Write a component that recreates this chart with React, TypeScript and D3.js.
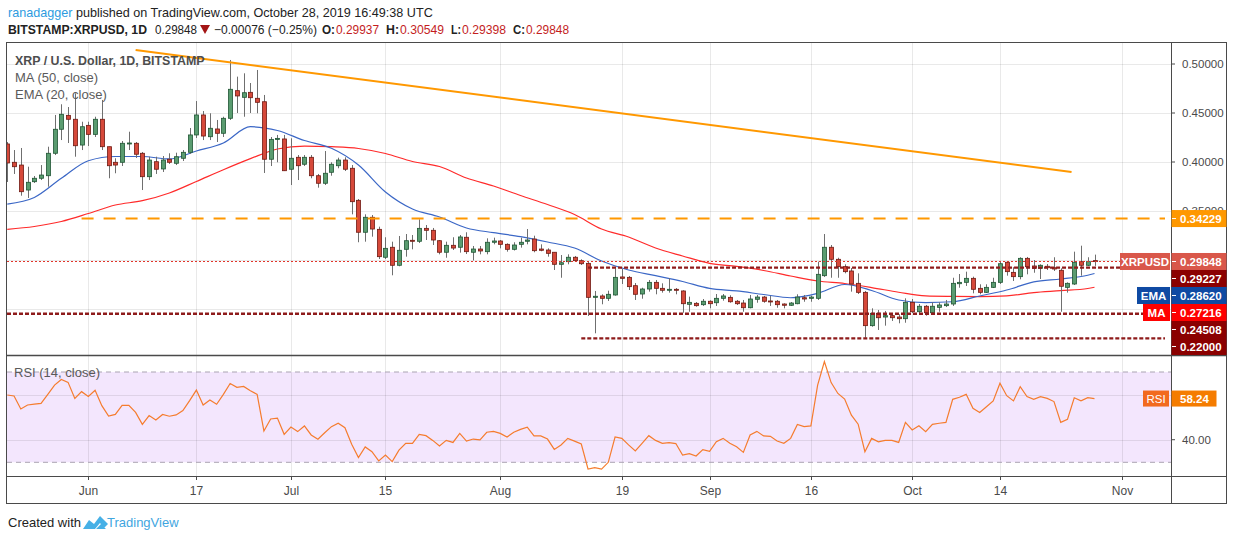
'use client'

import { useEffect, useRef } from 'react'
import * as d3 from 'd3'

// BITSTAMP:XRPUSD daily bars, 2019-05-20 .. 2019-10-28
const startDate = '2019-05-20'

const opens = [
  0.4184, 0.3997, 0.3969, 0.3714, 0.3799, 0.3834, 0.3860, 0.4089, 0.4334, 0.4476,
  0.4436, 0.4173, 0.4374, 0.4282, 0.4436, 0.4156, 0.3997, 0.3997, 0.4189, 0.4191,
  0.4089, 0.3850, 0.4003, 0.3929, 0.4028, 0.3987, 0.4038, 0.4099, 0.4276, 0.4480,
  0.4258, 0.4337, 0.4293, 0.4446, 0.4728, 0.4660, 0.4711, 0.4650, 0.4615, 0.4028,
  0.4231, 0.4235, 0.3926, 0.4048, 0.3977, 0.4048, 0.3860, 0.3783, 0.3895, 0.3962,
  0.4020, 0.3936, 0.3609, 0.3283, 0.3436, 0.3313, 0.3028, 0.3130, 0.2946, 0.3109,
  0.3201, 0.3191, 0.3323, 0.3303, 0.3197, 0.3079, 0.3150, 0.3130, 0.3232, 0.3079,
  0.3112, 0.3085, 0.3181, 0.3194, 0.3160, 0.3109, 0.3160, 0.3191, 0.3214, 0.3112,
  0.3102, 0.3079, 0.2956, 0.2983, 0.3028, 0.2993, 0.2966, 0.2619, 0.2633, 0.2609,
  0.2643, 0.2827, 0.2823, 0.2738, 0.2653, 0.2704, 0.2772, 0.2711, 0.2691, 0.2701,
  0.2684, 0.2548, 0.2558, 0.2544, 0.2579, 0.2564, 0.2609, 0.2619, 0.2579, 0.2561,
  0.2513, 0.2599, 0.2622, 0.2582, 0.2579, 0.2551, 0.2538, 0.2554, 0.2615, 0.2609,
  0.2609, 0.2840, 0.3130, 0.3007, 0.2932, 0.2888, 0.2762, 0.2670, 0.2330, 0.2456,
  0.2418, 0.2432, 0.2418, 0.2401, 0.2568, 0.2472, 0.2528, 0.2462, 0.2517, 0.2534,
  0.2551, 0.2758, 0.2772, 0.2813, 0.2711, 0.2670, 0.2721, 0.2772, 0.2977, 0.2874,
  0.2830, 0.3017, 0.2939, 0.2915, 0.2936, 0.2921, 0.2895, 0.2721, 0.2755, 0.2983,
  0.2946, 0.29937,
]

const highs = [
  0.4204, 0.4122, 0.4143, 0.3952, 0.3857, 0.3969, 0.4156, 0.4480, 0.4589, 0.4561,
  0.4701, 0.4411, 0.4411, 0.4462, 0.4633, 0.4156, 0.4038, 0.4214, 0.4309, 0.4204,
  0.4102, 0.4054, 0.4054, 0.4061, 0.4089, 0.4095, 0.4122, 0.4347, 0.4622, 0.4520,
  0.4497, 0.4429, 0.4462, 0.5041, 0.4871, 0.4905, 0.4806, 0.4939, 0.4684, 0.4255,
  0.4276, 0.4276, 0.4242, 0.4071, 0.4071, 0.4071, 0.3878, 0.4112, 0.3997, 0.4044,
  0.4048, 0.3969, 0.3622, 0.3466, 0.3459, 0.3340, 0.3232, 0.3187, 0.3245, 0.3265,
  0.3255, 0.3415, 0.3357, 0.3327, 0.3204, 0.3187, 0.3232, 0.3255, 0.3283, 0.3143,
  0.3143, 0.3221, 0.3228, 0.3204, 0.3170, 0.3181, 0.3228, 0.3316, 0.3248, 0.3160,
  0.3119, 0.3079, 0.3051, 0.3058, 0.3041, 0.3007, 0.2983, 0.2684, 0.2650, 0.2687,
  0.2915, 0.2908, 0.2837, 0.2765, 0.2717, 0.2796, 0.2796, 0.2762, 0.2813, 0.2714,
  0.2691, 0.2626, 0.2571, 0.2602, 0.2589, 0.2653, 0.2653, 0.2640, 0.2592, 0.2592,
  0.2643, 0.2643, 0.2633, 0.2633, 0.2592, 0.2558, 0.2571, 0.2650, 0.2643, 0.2636,
  0.2983, 0.3265, 0.3153, 0.3023, 0.2956, 0.2918, 0.2864, 0.2684, 0.2507, 0.2490,
  0.2480, 0.2459, 0.2446, 0.2609, 0.2602, 0.2551, 0.2541, 0.2568, 0.2568, 0.2592,
  0.2819, 0.2857, 0.2881, 0.2830, 0.2752, 0.2752, 0.2819, 0.2990, 0.2990, 0.2926,
  0.3028, 0.3031, 0.3000, 0.2956, 0.2959, 0.3028, 0.2915, 0.2772, 0.3085, 0.3146,
  0.3028, 0.30549,
]

const lows = [
  0.3796, 0.3878, 0.3656, 0.3633, 0.3786, 0.3816, 0.3748, 0.4071, 0.4224, 0.4194,
  0.4054, 0.4122, 0.4163, 0.4255, 0.4122, 0.3834, 0.3885, 0.3959, 0.4122, 0.4041,
  0.3714, 0.3816, 0.3878, 0.3898, 0.3980, 0.3969, 0.4010, 0.4082, 0.4245, 0.4224,
  0.4224, 0.4204, 0.4255, 0.4429, 0.4500, 0.4462, 0.4500, 0.4497, 0.3888, 0.3959,
  0.3997, 0.3908, 0.3765, 0.3816, 0.3959, 0.3834, 0.3738, 0.3765, 0.3860, 0.3936,
  0.3908, 0.3466, 0.3181, 0.3187, 0.3238, 0.3010, 0.3010, 0.2844, 0.2936, 0.3034,
  0.3109, 0.3173, 0.3204, 0.3153, 0.3058, 0.3023, 0.3102, 0.3075, 0.3061, 0.2995,
  0.3058, 0.3058, 0.3160, 0.3119, 0.3085, 0.3097, 0.3126, 0.3160, 0.3079, 0.3089,
  0.3034, 0.2898, 0.2819, 0.2956, 0.2980, 0.2949, 0.2429, 0.2252, 0.2548, 0.2582,
  0.2636, 0.2755, 0.2694, 0.2592, 0.2605, 0.2677, 0.2650, 0.2667, 0.2667, 0.2650,
  0.2462, 0.2472, 0.2523, 0.2531, 0.2507, 0.2531, 0.2585, 0.2564, 0.2541, 0.2472,
  0.2507, 0.2564, 0.2564, 0.2531, 0.2513, 0.2507, 0.2531, 0.2548, 0.2574, 0.2574,
  0.2592, 0.2827, 0.2819, 0.2819, 0.2864, 0.2677, 0.2653, 0.2207, 0.2319, 0.2286,
  0.2330, 0.2378, 0.2354, 0.2360, 0.2459, 0.2459, 0.2432, 0.2449, 0.2472, 0.2520,
  0.2531, 0.2717, 0.2735, 0.2660, 0.2650, 0.2663, 0.2714, 0.2755, 0.2840, 0.2786,
  0.2803, 0.2854, 0.2870, 0.2806, 0.2898, 0.2888, 0.2472, 0.2667, 0.2745, 0.2840,
  0.2939, 0.29398,
]

const closes = [
  0.3990, 0.3952, 0.3697, 0.3793, 0.3834, 0.3867, 0.4089, 0.4334, 0.4487, 0.4436,
  0.4166, 0.4360, 0.4282, 0.4436, 0.4156, 0.3962, 0.3969, 0.4191, 0.4194, 0.4079,
  0.3850, 0.4020, 0.3926, 0.4020, 0.3997, 0.4054, 0.4099, 0.4276, 0.4480, 0.4265,
  0.4344, 0.4293, 0.4446, 0.4742, 0.4674, 0.4707, 0.4656, 0.4609, 0.4028, 0.4231,
  0.4241, 0.3911, 0.4038, 0.3962, 0.4048, 0.3860, 0.3783, 0.3885, 0.3977, 0.4020,
  0.3926, 0.3595, 0.3283, 0.3436, 0.3316, 0.3034, 0.3119, 0.2946, 0.3099, 0.3197,
  0.3191, 0.3323, 0.3303, 0.3204, 0.3079, 0.3150, 0.3122, 0.3235, 0.3085, 0.3112,
  0.3092, 0.3181, 0.3194, 0.3160, 0.3109, 0.3153, 0.3181, 0.3204, 0.3095, 0.3099,
  0.3068, 0.2956, 0.2972, 0.3028, 0.2993, 0.2962, 0.2619, 0.2630, 0.2609, 0.2650,
  0.2823, 0.2813, 0.2728, 0.2650, 0.2704, 0.2772, 0.2711, 0.2691, 0.2701, 0.2691,
  0.2554, 0.2568, 0.2534, 0.2579, 0.2554, 0.2609, 0.2633, 0.2574, 0.2554, 0.2513,
  0.2602, 0.2622, 0.2579, 0.2574, 0.2544, 0.2538, 0.2561, 0.2622, 0.2602, 0.2622,
  0.2854, 0.3130, 0.3007, 0.2932, 0.2881, 0.2755, 0.2670, 0.2330, 0.2456, 0.2411,
  0.2432, 0.2411, 0.2401, 0.2568, 0.2472, 0.2528, 0.2462, 0.2528, 0.2541, 0.2551,
  0.2762, 0.2772, 0.2813, 0.2701, 0.2670, 0.2721, 0.2772, 0.2962, 0.2881, 0.2830,
  0.3017, 0.2932, 0.2915, 0.2946, 0.2921, 0.2908, 0.2732, 0.2762, 0.2977, 0.2946,
  0.2983, 0.29848,
]

// RSI (14, close), one value per bar
const rsi = [
  59.8, 59.4, 53.6, 55.4, 55.8, 56.1, 60.1, 64.2, 66.7, 65.4,
  58.3, 61.3, 59.2, 61.9, 55.1, 50.5, 51.2, 55.2, 55.2, 52.1,
  46.8, 50.7, 48.7, 51.2, 50.4, 51.0, 52.9, 57.3, 62.0, 55.4,
  57.6, 55.7, 60.1, 64.9, 63.2, 63.6, 61.7, 60.1, 43.9, 49.2,
  49.6, 42.4, 45.6, 43.6, 46.1, 42.1, 40.2, 43.1, 45.8, 47.3,
  45.3, 38.0, 32.1, 36.8, 34.7, 30.6, 33.2, 30.3, 35.4, 38.4,
  38.4, 42.4, 41.8, 39.7, 37.2, 39.7, 38.8, 42.8, 39.4, 40.3,
  39.9, 43.3, 43.7, 42.8, 41.2, 43.3, 44.6, 45.6, 41.7, 41.7,
  40.3, 35.7, 37.7, 40.6, 39.4, 38.1, 27.0, 27.6, 27.0, 30.0,
  41.2, 40.6, 37.7, 35.0, 38.4, 41.8, 39.7, 38.4, 38.7, 38.3,
  33.2, 33.8, 32.8, 35.6, 34.9, 39.1, 40.6, 38.4, 36.9, 34.4,
  42.1, 43.7, 41.7, 41.5, 39.4, 38.4, 40.6, 46.8, 45.8, 46.1,
  64.2, 74.6, 65.3, 60.5, 58.0, 50.9, 46.9, 34.7, 40.6, 39.1,
  39.7, 39.7, 38.8, 47.7, 44.3, 46.2, 43.6, 46.8, 47.3, 47.7,
  57.9, 58.8, 60.1, 53.9, 52.1, 54.6, 57.2, 65.0, 59.5, 57.2,
  63.5, 59.1, 57.9, 59.1, 58.3, 56.9, 47.7, 49.0, 58.6, 57.2,
  58.6, 58.24,
]

const avgIdx = [
  0, 4, 8, 12, 16, 20, 24, 28, 32, 36, 40, 44, 48, 52, 56, 60, 64, 68, 72, 76, 80,
  84, 88, 92, 96, 100, 104, 108, 112, 116, 120, 124, 128, 132, 136, 140, 144, 148,
  152, 156, 160, 161,
]
const ma50 = [
  0.3313, 0.3342, 0.3393, 0.3474, 0.3561, 0.3605, 0.3684, 0.3801, 0.3921, 0.4034,
  0.4133, 0.4163, 0.4156, 0.4138, 0.4087, 0.4005, 0.3954, 0.3837, 0.3755, 0.3658,
  0.3566, 0.3464, 0.3316, 0.3235, 0.3122, 0.3041, 0.2966, 0.2934, 0.2893, 0.2837,
  0.2786, 0.2760, 0.2719, 0.2671, 0.2633, 0.2628, 0.2626, 0.2633, 0.2668, 0.2687,
  0.2709, 0.27216,
]
const ema20 = [
  0.3571, 0.3638, 0.3833, 0.4013, 0.4056, 0.4056, 0.4031, 0.4112, 0.4194, 0.4360,
  0.4321, 0.4219, 0.4140, 0.3969, 0.3694, 0.3520, 0.3439, 0.3327, 0.3279, 0.3238,
  0.3184, 0.3122, 0.2990, 0.2898, 0.2840, 0.2781, 0.2711, 0.2684, 0.2648, 0.2615,
  0.2660, 0.2750, 0.2689, 0.2592, 0.2566, 0.2574, 0.2633, 0.2694, 0.2776, 0.2806,
  0.2844, 0.28620,
]

// horizontal levels drawn on the chart (price, first bar)
const levelPrices = [0.34229, 0.29227, 0.24508, 0.22]
const levelFrom = [11, 86, 0, 85]

// falling trend line (bar index, price)
const trendIdx = [19, 157.6]
const trendPrices = [0.5143, 0.3898]

const tickDates = [
  '2019-06-01', '2019-06-17', '2019-07-01', '2019-07-15', '2019-08-01', '2019-08-19',
  '2019-09-01', '2019-09-16', '2019-10-01', '2019-10-14', '2019-11-01',
]
const tickLabels = ['Jun', '17', 'Jul', '15', 'Aug', '19', 'Sep', '16', 'Oct', '14', 'Nov']
const priceTicks = [0.5, 0.45, 0.4, 0.35, 0.3, 0.25]
const rsiGrid = [40, 60]
const rsiBand = [30, 70]

export default function App() {
  const svgRef = useRef<SVGSVGElement>(null)

  useEffect(() => {
    if (!svgRef.current) return

    const svg = d3.select(svgRef.current)
    svg.selectAll('*').remove()

    const width = 1234
    const height = 540
    const font = "'Liberation Sans', Arial, sans-serif"
    const left = 7
    const right = 1171
    const axisRight = 1226
    const mainTop = 43
    const mainBottom = 355
    const rsiBottom = 476
    const axisBottom = 503
    const frame = '#4a4a4a'
    const textGrey = '#4a4a4a'

    svg.attr('width', width).attr('height', height).style('font-family', font)
    svg.append('rect').attr('width', width).attr('height', height).attr('fill', '#fff')

    const dates = opens.map((_, i) => d3.utcDay.offset(new Date(startDate), i))
    const last = dates.length - 1

    // Scales
    const x = d3.scaleUtc().domain([dates[0], dates[last]]).range([7.3, 1094.5])
    const xi = (i: number) => x(new Date(dates[0].getTime() + i * 864e5))
    const y = d3.scaleLinear().domain([0.2, 0.5]).range([358, 64])
    const ry = d3.scaleLinear().domain([30, 70]).range([462.3, 372])

    const defs = svg.append('defs')
    defs.append('clipPath').attr('id', 'clip-main')
      .append('rect').attr('x', left).attr('y', mainTop).attr('width', right - left).attr('height', mainBottom - mainTop)
    defs.append('clipPath').attr('id', 'clip-rsi')
      .append('rect').attr('x', left).attr('y', mainBottom).attr('width', right - left).attr('height', rsiBottom - mainBottom)

    // RSI band
    svg.append('rect')
      .attr('x', left).attr('width', right - left)
      .attr('y', ry(rsiBand[1])).attr('height', ry(rsiBand[0]) - ry(rsiBand[1]))
      .attr('fill', '#f3e6fd')

    // Grid
    const grid = svg.append('g').attr('stroke', 'rgba(0,0,0,0.085)').attr('stroke-width', 1)
    tickDates.forEach(t => {
      const px = Math.round(x(new Date(t))) + 0.5
      grid.append('line').attr('x1', px).attr('x2', px).attr('y1', mainTop).attr('y2', rsiBottom)
    })
    priceTicks.forEach(p => {
      const py = Math.round(y(p)) + 0.5
      grid.append('line').attr('x1', left).attr('x2', right).attr('y1', py).attr('y2', py)
    })
    rsiGrid.forEach(v => {
      const py = Math.round(ry(v)) + 0.5
      grid.append('line').attr('x1', left).attr('x2', right).attr('y1', py).attr('y2', py)
    })
    rsiBand.forEach(v => {
      svg.append('line')
        .attr('x1', left).attr('x2', right).attr('y1', ry(v)).attr('y2', ry(v))
        .attr('stroke', '#aaa3b2').attr('stroke-dasharray', '5 4')
    })

    // Main pane
    const main = svg.append('g').attr('clip-path', 'url(#clip-main)')

    const avgLine = (vals: number[]) => d3.line<number>()
      .x((_, i) => xi(avgIdx[i]))
      .y(v => y(v))
      .curve(d3.curveMonotoneX)(vals)

    main.append('path').attr('d', avgLine(ma50)).attr('fill', 'none')
      .attr('stroke', '#ff2b2b').attr('stroke-width', 1.2)
    main.append('path').attr('d', avgLine(ema20)).attr('fill', 'none')
      .attr('stroke', '#3b67c6').attr('stroke-width', 1.2)

    // Candles
    const bodyW = 4
    const candles = main.selectAll('.candle')
      .data(dates)
      .enter()
      .append('g')
      .attr('class', 'candle')

    candles.append('line')
      .attr('x1', (_, i) => Math.round(x(dates[i])) + 0.5)
      .attr('x2', (_, i) => Math.round(x(dates[i])) + 0.5)
      .attr('y1', (_, i) => y(highs[i]))
      .attr('y2', (_, i) => y(lows[i]))
      .attr('stroke', '#6f6f6f')
      .attr('stroke-width', 1)

    candles.append('rect')
      .attr('x', (_, i) => Math.round(x(dates[i])) + 0.5 - bodyW / 2)
      .attr('y', (_, i) => y(Math.max(opens[i], closes[i])))
      .attr('width', bodyW)
      .attr('height', (_, i) => Math.max(1, Math.abs(y(opens[i]) - y(closes[i]))))
      .attr('fill', (_, i) => closes[i] >= opens[i] ? '#5a9c70' : '#d6493a')
      .attr('stroke', (_, i) => closes[i] >= opens[i] ? '#1f5533' : '#6f1912')
      .attr('stroke-width', 0.8)

    // Horizontal levels
    levelPrices.forEach((p, i) => {
      const orange = i === 0
      main.append('line')
        .attr('x1', i === 2 ? left : xi(levelFrom[i])).attr('x2', right - 6)
        .attr('y1', y(p)).attr('y2', y(p))
        .attr('stroke', orange ? '#ff9800' : '#8e1b1b')
        .attr('stroke-width', orange ? 2 : 2.4)
        .attr('stroke-dasharray', orange ? '12 10' : '4 2')
    })

    // Last price line
    main.append('line')
      .attr('x1', left).attr('x2', right)
      .attr('y1', Math.round(y(closes[last])) + 0.5).attr('y2', Math.round(y(closes[last])) + 0.5)
      .attr('stroke', '#e0352b').attr('stroke-dasharray', '2 2')

    // Trend line
    main.append('line')
      .attr('x1', xi(trendIdx[0])).attr('y1', y(trendPrices[0]))
      .attr('x2', xi(trendIdx[1])).attr('y2', y(trendPrices[1]))
      .attr('stroke', '#ff9800').attr('stroke-width', 2)

    // RSI line
    svg.append('g').attr('clip-path', 'url(#clip-rsi)')
      .append('path')
      .attr('d', d3.line<number>().x((_, i) => x(dates[i])).y(v => ry(v))(rsi))
      .attr('fill', 'none').attr('stroke', '#f57c2e').attr('stroke-width', 1.2)

    // Legends
    svg.append('text').attr('x', 15).attr('y', 65)
      .style('font-size', '12.4px').style('font-weight', 'bold').attr('fill', '#4d4d4d')
      .text('XRP / U.S. Dollar, 1D, BITSTAMP')
    svg.append('text').attr('x', 15).attr('y', 82)
      .style('font-size', '13px').attr('fill', '#5a5a5a').text('MA (50, close)')
    svg.append('text').attr('x', 15).attr('y', 99)
      .style('font-size', '13px').attr('fill', '#5a5a5a').text('EMA (20, close)')
    svg.append('text').attr('x', 14).attr('y', 377)
      .style('font-size', '13px').attr('fill', '#5a5a5a').text('RSI (14, close)')

    // Frame
    const fr = svg.append('g').attr('stroke', frame).attr('fill', 'none')
    fr.append('rect').attr('x', 6.5).attr('y', 42.5).attr('width', axisRight - 6).attr('height', axisBottom - 42)
    fr.append('line').attr('x1', right + 0.5).attr('x2', right + 0.5).attr('y1', 42.5).attr('y2', axisBottom + 0.5)
    fr.append('line').attr('x1', 6.5).attr('x2', axisRight + 0.5).attr('y1', rsiBottom + 0.5).attr('y2', rsiBottom + 0.5)
    fr.append('line').attr('x1', 6.5).attr('x2', axisRight + 0.5).attr('y1', mainBottom + 0.5).attr('y2', mainBottom + 0.5)
      .attr('stroke-width', 1.6)

    // X axis
    tickDates.forEach((t, i) => {
      const px = Math.round(x(new Date(t))) + 0.5
      svg.append('line').attr('x1', px).attr('x2', px).attr('y1', rsiBottom).attr('y2', rsiBottom + 4)
        .attr('stroke', frame)
      svg.append('text').attr('x', px).attr('y', 495).attr('text-anchor', 'middle')
        .style('font-size', '12px').attr('fill', textGrey).text(tickLabels[i])
    })

    // Price-axis tags: stacked downwards so they do not overlap
    const fmt = d3.format('.5f')
    const boxH = 17
    const tags = [
      { v: closes[last], bg: '#d9574a', tag: 'XRPUSD', w: 50 },
      { v: levelPrices[1], bg: '#8b0000', tag: '', w: 0 },
      { v: ema20[ema20.length - 1], bg: '#0f4aa3', tag: 'EMA', w: 33 },
      { v: ma50[ma50.length - 1], bg: '#ff0000', tag: 'MA', w: 27 },
      { v: levelPrices[2], bg: '#8b0000', tag: '', w: 0 },
      { v: levelPrices[3], bg: '#8b0000', tag: '', w: 0 },
    ].sort((a, b) => y(a.v) - y(b.v))
    let prev = -Infinity
    const tagY = tags.map(t => {
      prev = Math.max(y(t.v), prev + boxH)
      return prev
    })

    // Price axis labels (those fully under a tag are hidden, as in the original)
    priceTicks.forEach(p => {
      svg.append('line').attr('x1', right).attr('x2', right + 4).attr('y1', y(p)).attr('y2', y(p)).attr('stroke', frame)
      if (tagY.some(cy => Math.abs(cy - y(p)) < 6)) return
      svg.append('text').attr('x', 1182).attr('y', y(p) + 4)
        .style('font-size', '11.5px').attr('fill', textGrey).text(fmt(p))
    })
    svg.append('line').attr('x1', right).attr('x2', right + 4).attr('y1', ry(40)).attr('y2', ry(40)).attr('stroke', frame)
    svg.append('text').attr('x', 1182).attr('y', ry(40) + 4)
      .style('font-size', '11.5px').attr('fill', textGrey).text('40.00')

    const valueBox = (cy: number, bg: string, label: string, tag?: string, tagW = 0) => {
      if (tag) {
        svg.append('rect').attr('x', right - 1 - tagW).attr('y', cy - boxH / 2).attr('width', tagW).attr('height', boxH).attr('fill', bg)
        svg.append('text').attr('x', right - 1 - tagW / 2).attr('y', cy + 4.5).attr('text-anchor', 'middle')
          .style('font-size', '11.5px').style('font-weight', 'bold').attr('fill', '#fff').text(tag)
      }
      svg.append('rect').attr('x', right + 0.5).attr('y', cy - boxH / 2).attr('width', axisRight - right).attr('height', boxH).attr('fill', bg)
      svg.append('line').attr('x1', right + 1).attr('x2', right + 5).attr('y1', cy).attr('y2', cy).attr('stroke', '#fff')
      svg.append('text').attr('x', 1180).attr('y', cy + 4.5)
        .style('font-size', '11.5px').style('font-weight', 'bold').attr('fill', '#fff').text(label)
    }

    valueBox(y(levelPrices[0]), '#ff9800', fmt(levelPrices[0]))
    tags.forEach((t, i) => valueBox(tagY[i], t.bg, fmt(t.v), t.tag || undefined, t.w))

    // RSI value
    const rv = rsi[last]
    svg.append('rect').attr('x', 1143).attr('y', ry(rv) - 8).attr('width', 26).attr('height', 16).attr('fill', '#f26a1f')
    svg.append('text').attr('x', 1156).attr('y', ry(rv) + 4.5).attr('text-anchor', 'middle')
      .style('font-size', '11.5px').attr('fill', '#fff').text('RSI')
    svg.append('rect').attr('x', right + 0.5).attr('y', ry(rv) - 8).attr('width', 45).attr('height', 16).attr('fill', '#f57c00')
    svg.append('text').attr('x', 1180).attr('y', ry(rv) + 4.5)
      .style('font-size', '11.5px').style('font-weight', 'bold').attr('fill', '#fff').text(rv.toFixed(2))

    // Header
    const h1 = svg.append('text').attr('x', 8).attr('y', 17).style('font-size', '12.6px').attr('fill', '#222')
    h1.append('tspan').attr('fill', '#2d9bdf').text('ranadagger')
    h1.append('tspan').text(' published on TradingView.com, October 28, 2019 16:49:38 UTC')

    const h2 = (px: number, len: number, txt: string, bold = false, color = '#222') =>
      svg.append('text').attr('x', px).attr('y', 34).style('font-size', '12.4px')
        .style('font-weight', bold ? 'bold' : 'normal').attr('fill', color)
        .attr('textLength', len).attr('lengthAdjust', 'spacingAndGlyphs').text(txt)
    const red = '#c41e1e'
    h2(8, 139, 'BITSTAMP:XRPUSD, 1D', true)
    h2(155, 42, '0.29848')
    svg.append('path').attr('d', 'M200,25 L210,25 L205,34 Z').attr('fill', '#a31515')
    h2(214, 103, '\u22120.00076 (\u22120.25%)')
    h2(322, 13, 'O:', true)
    h2(336, 43, '0.29937', false, red)
    h2(386, 13, 'H:', true)
    h2(400, 44, '0.30549', false, red)
    h2(451, 10, 'L:', true)
    h2(462, 44, '0.29398', false, red)
    h2(513, 12, 'C:', true)
    h2(526, 43, '0.29848', false, red)

    // Footer
    svg.append('text').attr('x', 8).attr('y', 527).style('font-size', '13px').attr('fill', '#222').text('Created with')
    svg.append('path')
      .attr('d', 'M83,529 L89,520 L94,524 L100,516 L108,524 L104,528 L100,523 L95,529 Z M96,529 L101,524 L106,529 Z')
      .attr('fill', '#46b0e6')
    svg.append('text').attr('x', 107).attr('y', 527).style('font-size', '13px').attr('fill', '#3fa6df').text('TradingView')
  }, [])

  return <svg ref={svgRef} style={{ position: 'absolute', left: 0, top: 0, display: 'block' }} />
}
